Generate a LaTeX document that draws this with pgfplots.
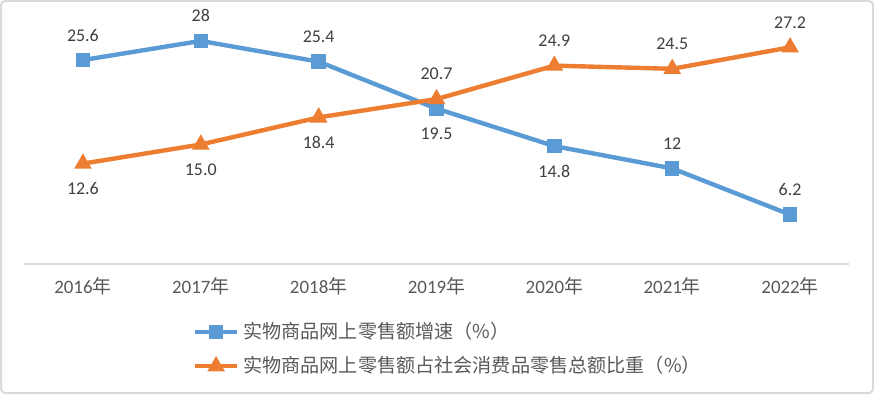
\documentclass[border=0pt]{standalone}
\usepackage{pgfplots}
\pgfplotsset{compat=1.18}
\usepackage{fontspec}
\setmainfont{Carlito}
\newfontfamily\cjk{Noto Sans CJK SC}
\definecolor{cblue}{HTML}{5B9BD5}
\definecolor{corange}{HTML}{ED7D31}
\definecolor{lab}{HTML}{404040}
\definecolor{tickc}{HTML}{595959}
\definecolor{gridc}{HTML}{D9D9D9}
\begin{document}
\begin{tikzpicture}[x=1bp,y=1bp]
\draw[gridc, line width=1bp, rounded corners=2bp] (0.5,0.5) rectangle (436.5,196.5);
\begin{axis}[at={(12bp,65bp)}, anchor=south west, scale only axis,
  width=412.5bp, height=119.5bp,
  xmin=-0.5, xmax=6.5, ymin=0, ymax=30,
  axis x line*=bottom, axis y line=none,
  x axis line style={gridc, line width=1bp, -},
  xtick={0,...,6},
  xticklabels={2016{\cjk 年},2017{\cjk 年},2018{\cjk 年},2019{\cjk 年},2020{\cjk 年},2021{\cjk 年},2022{\cjk 年}},
  major tick length=0pt,
  xticklabel style={text=tickc, font=\fontsize{9.5}{11}\selectfont, yshift=-3bp},
  clip=false,
  legend style={at={(0.515,-0.225)}, anchor=north, draw=none, fill=none,
    cells={anchor=west}, font=\cjk\fontsize{9.6}{11}\selectfont, text=tickc,
    row sep=3.5bp, inner sep=0pt},
  legend image code/.code={\draw[mark repeat=2,mark phase=2] plot coordinates {(0bp,0bp)(10.5bp,0bp)(21bp,0bp)};},
  nodes near coords style={font=\fontsize{9}{11}\selectfont, text=lab},
]
\addplot[cblue, line width=2.2bp, mark=square*, mark size=2.5bp, mark options={solid}]
  coordinates {(0,25.6)(1,28)(2,25.4)(3,19.5)(4,14.8)(5,12)(6,6.2)};
\addlegendentry{实物商品网上零售额增速（\%）}
\addplot[corange, line width=2.2bp, mark=triangle*, mark size=2.9bp, mark options={solid}]
  coordinates {(0,12.6)(1,15.0)(2,18.4)(3,20.7)(4,24.9)(5,24.5)(6,27.2)};
\addlegendentry{实物商品网上零售额占社会消费品零售总额比重（\%）}
% labels above
\addplot[draw=none, mark=none, forget plot, point meta=explicit symbolic,
  nodes near coords, nodes near coords style={anchor=center, yshift=12.5bp, text=lab}]
  coordinates {(0,25.6)[25.6] (1,28)[28] (2,25.4)[25.4] (5,12)[12] (6,6.2)[6.2]
               (3,20.7)[20.7] (4,24.9)[24.9] (5,24.5)[24.5] (6,27.2)[27.2]};
% labels below
\addplot[draw=none, mark=none, forget plot, point meta=explicit symbolic,
  nodes near coords, nodes near coords style={anchor=center, yshift=-12.5bp, text=lab}]
  coordinates {(3,19.5)[19.5] (4,14.8)[14.8]
               (0,12.6)[12.6] (1,15.0)[15.0] (2,18.4)[18.4]};
\end{axis}
\end{tikzpicture}
\end{document}
